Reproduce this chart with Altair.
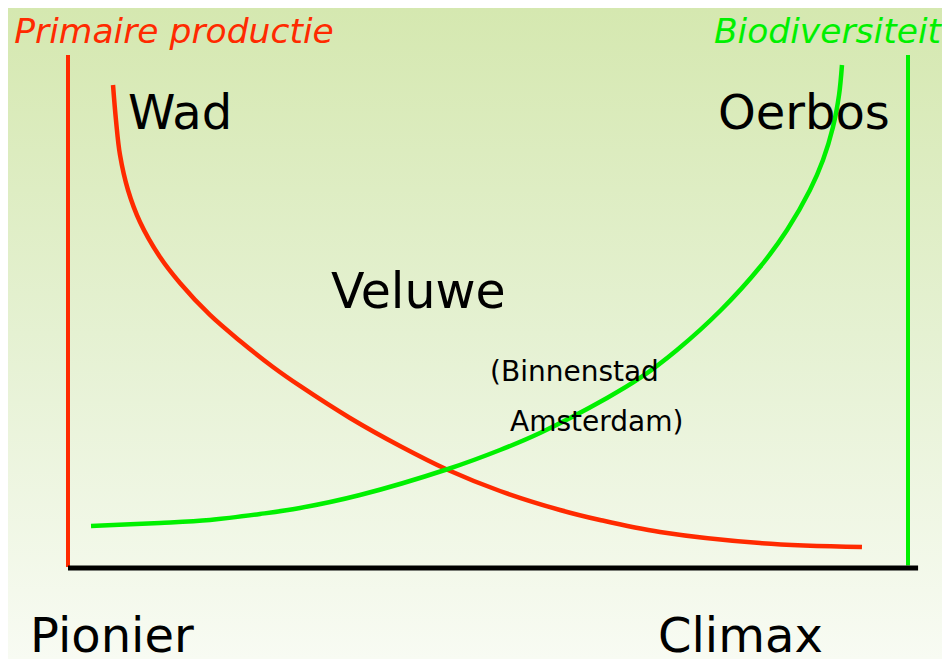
import altair as alt
import pandas as pd

# Succession stage (0 = pionier, 100 = climax) vs relative level (0-100)
red_x = [5.36, 5.71, 6.19, 7.14, 8.57, 10.95, 13.33, 16.90, 20.48, 24.40, 27.62, 33.57, 39.52, 45.24, 51.43, 58.57, 63.33, 70.48, 82.38, 94.52]
red_y = [94.15, 87.33, 80.51, 73.68, 67.45, 60.62, 55.56, 49.32, 44.25, 39.18, 35.48, 29.24, 23.78, 19.10, 15.01, 11.31, 9.36, 7.02, 4.87, 4.09]

green_x = [2.74, 10.95, 16.90, 22.86, 27.62, 34.76, 45.24, 51.43, 56.19, 64.17, 68.10, 72.50, 77.74, 82.38, 85.60, 88.33, 89.88, 91.07, 91.79, 92.14]
green_y = [8.19, 8.77, 9.36, 10.53, 11.70, 14.23, 19.30, 23.00, 26.32, 33.14, 37.04, 42.50, 50.29, 58.67, 65.89, 73.68, 79.53, 85.96, 92.20, 98.05]

label_text = ["Primaire productie", "Biodiversiteit", "Wad", "Oerbos", "Veluwe",
              "(Binnenstad", "Amsterdam)", "Pionier", "Climax"]
label_x = [-6.4, 103.93, 7.14, 77.38, 31.3, 50.24, 52.62, -4.52, 70.24]
label_y = [102.3, 102.3, 85.6, 85.6, 50.68, 36.45, 26.71, -16.37, -16.37]
label_size = [34.5, 34.5, 48, 48, 49, 28, 28, 48, 48]
label_align = ["left", "right", "left", "left", "left", "left", "left", "left", "left"]

RED = "#ff2a00"
GREEN = "#00f000"
W, H = 934, 651

xs = alt.Scale(domain=[0, 100], range=[60, 900])
ys = alt.Scale(domain=[0, 100], range=[560, 47])

bg = alt.Chart(pd.DataFrame({"a": [0]})).mark_rect(
    color=alt.LinearGradient(
        gradient="linear",
        stops=[alt.GradientStop(color="#d5e8b0", offset=0),
               alt.GradientStop(color="#e5f1d2", offset=0.5),
               alt.GradientStop(color="#f8fbf3", offset=1)],
        x1=0, x2=0, y1=0, y2=1,
    )
).encode(x=alt.value(0), x2=alt.value(W), y=alt.value(0), y2=alt.value(H))

red_df = pd.DataFrame({"i": range(len(red_x)), "x": red_x, "y": red_y})
green_df = pd.DataFrame({"i": range(len(green_x)), "x": green_x, "y": green_y})

red_line = alt.Chart(red_df).mark_line(color=RED, strokeWidth=4.5, interpolate="catmull-rom").encode(
    x=alt.X("x:Q", scale=xs, axis=None), y=alt.Y("y:Q", scale=ys, axis=None), order="i:Q")
green_line = alt.Chart(green_df).mark_line(color=GREEN, strokeWidth=4.5, interpolate="catmull-rom").encode(
    x=alt.X("x:Q", scale=xs, axis=None), y=alt.Y("y:Q", scale=ys, axis=None), order="i:Q")

vred = alt.Chart(pd.DataFrame({"x": [0], "y": [0.2], "y2": [100]})).mark_rule(color=RED, strokeWidth=4).encode(
    x=alt.X("x:Q", scale=xs, axis=None), y=alt.Y("y:Q", scale=ys, axis=None), y2="y2:Q")
vgreen = alt.Chart(pd.DataFrame({"x": [100], "y": [0.5], "y2": [100]})).mark_rule(color=GREEN, strokeWidth=4).encode(
    x=alt.X("x:Q", scale=xs, axis=None), y=alt.Y("y:Q", scale=ys, axis=None), y2="y2:Q")
base_axis = alt.Chart(pd.DataFrame({"x": [0], "x2": [101.2], "y": [0]})).mark_rule(color="black", strokeWidth=5).encode(
    x=alt.X("x:Q", scale=xs, axis=None), x2="x2:Q", y=alt.Y("y:Q", scale=ys, axis=None))

colors = [RED, GREEN] + ["black"] * 7
styles = ["italic", "italic"] + ["normal"] * 7

texts = []
for t, lx, ly, sz, col, fs, al in zip(label_text, label_x, label_y, label_size, colors, styles, label_align):
    texts.append(
        alt.Chart(pd.DataFrame({"t": [t], "x": [lx], "y": [ly]})).mark_text(
            align=al, baseline="alphabetic", font="DejaVu Sans",
            fontSize=sz, color=col, fontStyle=fs,
        ).encode(x=alt.X("x:Q", scale=xs, axis=None), y=alt.Y("y:Q", scale=ys, axis=None), text="t:N")
    )

chart = alt.layer(bg, red_line, green_line, vred, vgreen, base_axis, *texts).properties(
    width=W, height=H, padding=0, autosize=alt.AutoSizeParams(type="none")
).configure_view(stroke=None)

chart.save("out.html", embed_options={"renderer": "svg", "actions": False})
